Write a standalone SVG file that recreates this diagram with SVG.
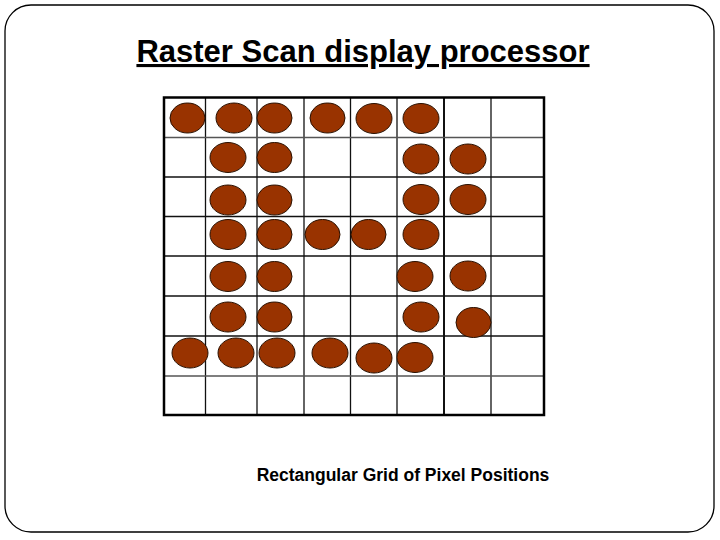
<svg xmlns="http://www.w3.org/2000/svg" width="720" height="540" viewBox="0 0 720 540">
<style>
.t{font-family:"Liberation Sans",Arial,sans-serif;font-weight:bold;fill:#000}
.g{stroke:#111;stroke-width:1.3;fill:none}
.p{fill:#993300;stroke:#2a1000;stroke-width:1}
</style>
<rect x="0" y="0" width="720" height="540" fill="#fff"/>
<rect x="5" y="5" width="709" height="527" rx="26" ry="26" fill="#fff" stroke="#000" stroke-width="1.3"/>
<text class="t" x="363" y="62" font-size="31" text-anchor="middle" text-decoration="underline">Raster Scan display processor</text>
<g id="grid">
<g class="g">
<line x1="205.5" y1="97.5" x2="205.5" y2="415"/>
<line x1="257" y1="97.5" x2="257" y2="415"/>
<line x1="304" y1="97.5" x2="304" y2="415"/>
<line x1="350.5" y1="97.5" x2="350.5" y2="415"/>
<line x1="397" y1="97.5" x2="397" y2="415"/>
<line x1="444" y1="97.5" x2="444" y2="415" stroke-width="2"/>
<line x1="491" y1="97.5" x2="491" y2="415"/>
<line x1="164" y1="137.5" x2="544" y2="137.5" stroke="#555" stroke-width="1.6"/>
<line x1="164" y1="177" x2="544" y2="177"/>
<line x1="164" y1="216.5" x2="544" y2="216.5"/>
<line x1="164" y1="256" x2="544" y2="256"/>
<line x1="164" y1="296" x2="544" y2="296"/>
<line x1="164" y1="336" x2="544" y2="336"/>
<line x1="164" y1="376" x2="544" y2="376" stroke="#555" stroke-width="1.6"/>
</g>
<rect x="164" y="97.5" width="380" height="317.5" fill="none" stroke="#000" stroke-width="2.5"/>
</g>
<g id="pixels" class="p">
<ellipse cx="187.5" cy="118" rx="17.5" ry="15"/>
<ellipse cx="234" cy="118" rx="18" ry="15"/>
<ellipse cx="274.5" cy="118" rx="17.5" ry="15"/>
<ellipse cx="327.5" cy="118" rx="17.5" ry="15"/>
<ellipse cx="374" cy="118.5" rx="18" ry="15"/>
<ellipse cx="421" cy="118.5" rx="18" ry="15"/>
<ellipse cx="228" cy="157.5" rx="18" ry="15"/>
<ellipse cx="274.5" cy="157.5" rx="17.5" ry="15"/>
<ellipse cx="421" cy="159" rx="18" ry="15"/>
<ellipse cx="468" cy="159" rx="18" ry="15"/>
<ellipse cx="228" cy="200" rx="18" ry="15"/>
<ellipse cx="274.5" cy="200" rx="17.5" ry="15"/>
<ellipse cx="421" cy="199.5" rx="18" ry="15"/>
<ellipse cx="468" cy="199.5" rx="18" ry="15"/>
<ellipse cx="228" cy="234.5" rx="18" ry="15"/>
<ellipse cx="274.5" cy="234.5" rx="17.5" ry="15"/>
<ellipse cx="322.5" cy="234.5" rx="17.5" ry="15"/>
<ellipse cx="368.5" cy="234.5" rx="17.5" ry="15"/>
<ellipse cx="421" cy="234.5" rx="18" ry="15"/>
<ellipse cx="228" cy="276.5" rx="18" ry="15"/>
<ellipse cx="274.5" cy="276.5" rx="17.5" ry="15"/>
<ellipse cx="415" cy="276.5" rx="18" ry="15"/>
<ellipse cx="468" cy="276" rx="18" ry="15"/>
<ellipse cx="228" cy="317" rx="18" ry="15"/>
<ellipse cx="274.5" cy="317" rx="17.5" ry="15"/>
<ellipse cx="421" cy="317" rx="18" ry="15"/>
<ellipse cx="473.5" cy="322.5" rx="17.5" ry="15"/>
<ellipse cx="190" cy="353" rx="18" ry="15"/>
<ellipse cx="236" cy="353" rx="18" ry="15"/>
<ellipse cx="277" cy="353" rx="18" ry="15"/>
<ellipse cx="330" cy="353" rx="18" ry="15"/>
<ellipse cx="374" cy="358" rx="18" ry="15"/>
<ellipse cx="415" cy="357.5" rx="18" ry="15"/>
</g>
<text class="t" x="403" y="481" font-size="17.5" text-anchor="middle">Rectangular Grid of Pixel Positions</text>
</svg>
